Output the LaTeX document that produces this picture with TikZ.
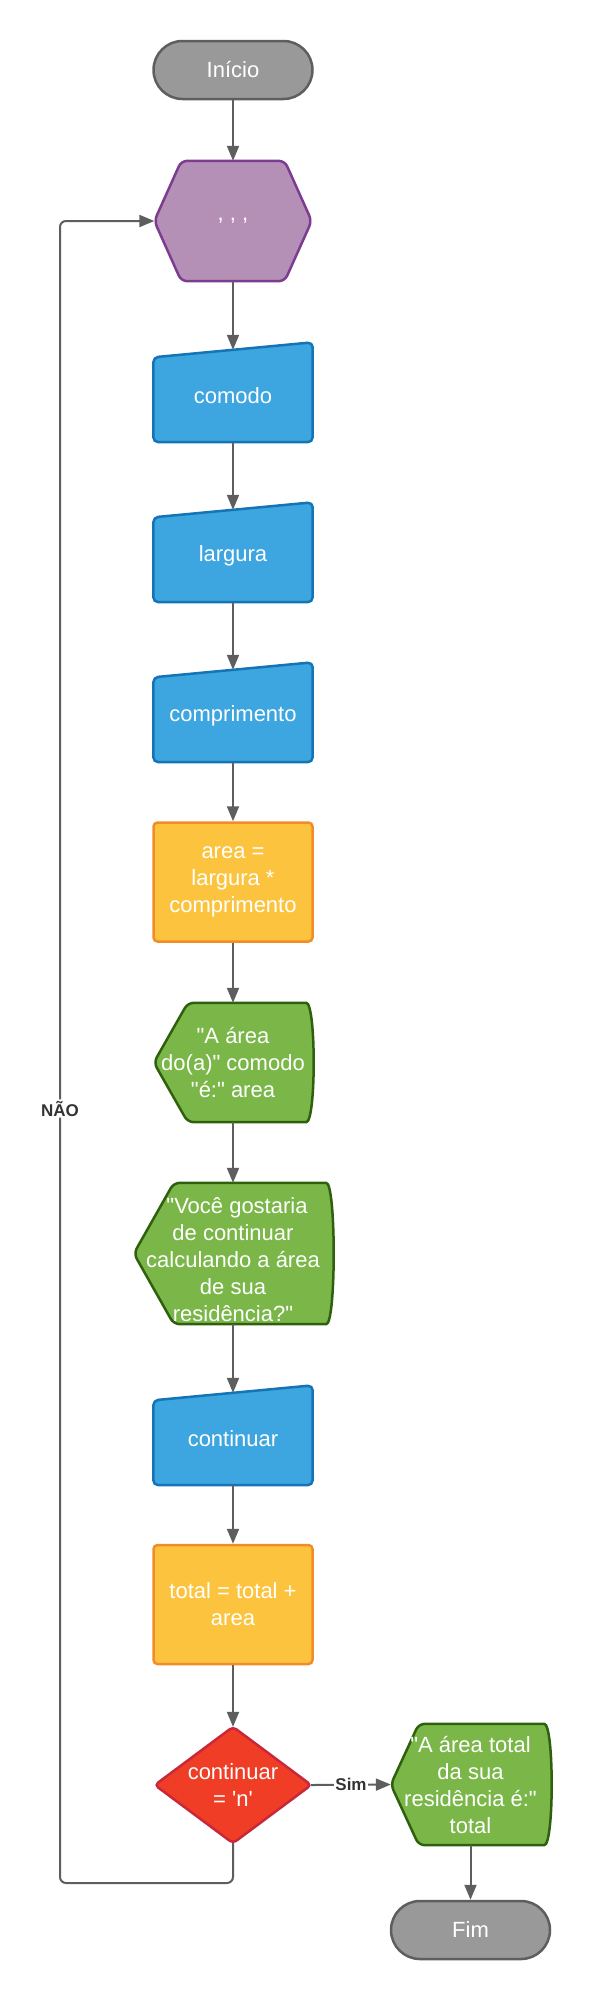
\documentclass[tikz,border=0pt]{standalone}
\usepackage{fontspec}
\setmainfont{Liberation Sans}[Ligatures=TeXOff]
\usetikzlibrary{arrows.meta,backgrounds}
\definecolor{termfill}{HTML}{999999}
\definecolor{termdraw}{HTML}{5E5E5E}
\definecolor{hexfill}{HTML}{B490B6}
\definecolor{hexdraw}{HTML}{7D3C8F}
\definecolor{infill}{HTML}{3DA5DF}
\definecolor{indraw}{HTML}{1474B5}
\definecolor{procfill}{HTML}{FCC43E}
\definecolor{procdraw}{HTML}{F28C28}
\definecolor{showfill}{HTML}{7AB648}
\definecolor{showdraw}{HTML}{2F600E}
\definecolor{decfill}{HTML}{F03D25}
\definecolor{decdraw}{HTML}{C8283A}
\definecolor{linegray}{HTML}{5E5E5E}
\definecolor{labeltext}{HTML}{333333}
\tikzset{
  flownode/.style = {align=center, text=white, inner sep=0pt,
    font=\fontsize{22pt}{27pt}\selectfont},
  term/.style = {flownode, rectangle, rounded corners=29pt, fill=termfill,
    draw=termdraw, line width=2.5pt, minimum width=159pt, minimum height=58pt},
  procbox/.style = {flownode, rectangle, rounded corners=4pt, fill=procfill,
    draw=procdraw, line width=2.5pt, minimum width=159pt, minimum height=119pt},
  hexbox/.style = {flownode, minimum width=157pt, minimum height=120pt},
  inbox/.style = {flownode, minimum width=159pt, minimum height=92pt},
  showbox/.style = {flownode},
  decbox/.style = {flownode, minimum width=156pt, minimum height=116pt},
  % shapes drawn behind the nodes
  hexshape/.style = {fill=hexfill, draw=hexdraw, line width=2.5pt, rounded corners=6pt},
  inshape/.style = {fill=infill, draw=indraw, line width=2.5pt, rounded corners=5pt},
  showshape/.style = {fill=showfill, draw=showdraw, line width=2.5pt, rounded corners=6pt},
  decshape/.style = {fill=decfill, draw=decdraw, line width=2.5pt, rounded corners=4pt},
  flow/.style = {draw=linegray, line width=2pt, ->},
  answer/.style = {fill=white, text=labeltext, inner sep=1.5pt,
    font=\bfseries\fontsize{17pt}{20pt}\selectfont},
}

\begin{document}
\begin{tikzpicture}[x=1pt, y=-1pt, >={Triangle[length=15pt,width=12pt]}]
\useasboundingbox (0,0) rectangle (590,2000);
\node [term] (start) at (233,70) {Início};
\node [hexbox] (ask) at (233,221) {, , ,};
\node [inbox] (comodo) at (233,396) {comodo};
\node [inbox] (largura) at (233,556) {largura};
\node [inbox] (comprimento) at (233,716) {comprimento};
\node [procbox] (area) at (233,882) {area =\\largura *\\comprimento};
\node [showbox, minimum width=158pt, minimum height=119pt] (showarea) at (233,1062.5)
  {"A área\\do(a)" comodo\\"é:" area};
\node [showbox, minimum width=198pt, minimum height=141pt] (asknext) at (233,1253.5)
  {\rule{0pt}{28pt}\hspace*{8pt}"Você gostaria\\de continuar\\calculando a área\\de sua\\residência?"};
\node [inbox] (continuar) at (233,1439) {continuar};
\node [procbox] (total) at (233,1604.5) {total = total +\\area};
\node [decbox] (decide) at (233,1785) {continuar\\= 'n'};
\node [showbox, minimum width=159pt, minimum height=121pt] (result) at (470.5,1784.5)
  {"A área total\\da sua\\residência é:"\\total};
\node [term] (end) at (470.5,1930) {Fim};

\begin{scope}[on background layer]
  \draw[hexshape] (ask.west) -- ([xshift=27pt]ask.north west) -- ([xshift=-27pt]ask.north east)
    -- (ask.east) -- ([xshift=-27pt]ask.south east) -- ([xshift=27pt]ask.south west) -- cycle;
  \foreach \n in {comodo,largura,comprimento,continuar}
    \draw[inshape] ([yshift=-7.5pt]\n.north west) -- ([yshift=7.5pt]\n.north east)
      -- (\n.south east) -- (\n.south west) -- cycle;
  \foreach \n/\inset in {showarea/34pt, asknext/40pt, result/28pt}
    \draw[showshape] (\n.west) -- ([xshift=\inset]\n.north west) -- ([xshift=-12pt]\n.north east)
      .. controls ([xshift=4pt]\n.north east) and ([xshift=4pt]\n.south east) .. ([xshift=-12pt]\n.south east)
      -- ([xshift=\inset]\n.south west) -- cycle;
  \draw[decshape] (decide.north) -- (decide.east) -- (decide.south) -- (decide.west) -- cycle;
\end{scope}

\draw[flow] (start.south) -- (ask.north);
\draw[flow] (ask.south) -- (comodo.north);
\draw[flow] (comodo.south) -- (largura.north);
\draw[flow] (largura.south) -- (comprimento.north);
\draw[flow] (comprimento.south) -- (area.north);
\draw[flow] (area.south) -- (showarea.north);
\draw[flow] (showarea.south) -- (asknext.north);
\draw[flow] (asknext.south) -- (continuar.north);
\draw[flow] (continuar.south) -- (total.north);
\draw[flow] (total.south) -- (decide.north);
\draw[flow] (decide.east) -- node[answer] {Sim} (result.west);
\draw[flow] (result.south) -- (end.north);
\coordinate (loopturn) at (60,1883);
\draw[flow, rounded corners=6pt] (decide.south) |- (loopturn)
  |- node[answer, pos=0.233] {NÃO} (ask.west);
\end{tikzpicture}
\end{document}
